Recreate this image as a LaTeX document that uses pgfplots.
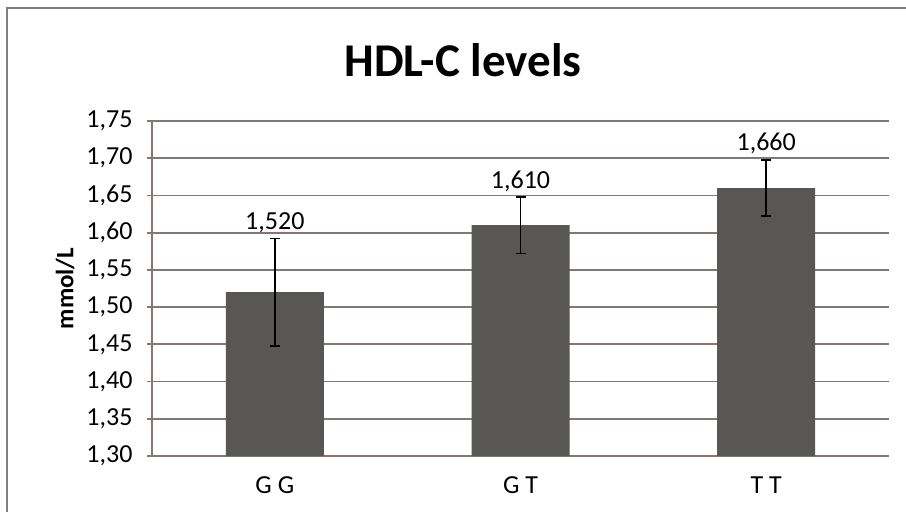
\documentclass[border=0pt]{standalone}
\usepackage{pgfplots}
\pgfplotsset{compat=1.18}
\usepackage{pgfplotstable}
\usepackage{fontspec}
\setmainfont{Carlito}
\definecolor{barcol}{RGB}{89,87,85}
\definecolor{gridcol}{RGB}{130,120,118}
\definecolor{framecol}{RGB}{128,128,128}
\pgfplotstableread{
x y err
0 1.520 0.072
1 1.610 0.038
2 1.660 0.038
}\datatable
\begin{document}
\begin{tikzpicture}
\path[use as bounding box] (0,0) rectangle (906pt,512pt);
\fill[white] (0,0) rectangle (906pt,512pt);
\draw[framecol, line width=2pt] (7pt,0) -- (7pt,504pt) -- (906pt,504pt);
\node[anchor=base, inner sep=0pt, font=\fontsize{47}{56}\selectfont\bfseries] at (463pt,435pt) {HDL-C levels};
\begin{axis}[
  at={(152pt,56pt)}, anchor=south west,
  scale only axis, width=737pt, height=335pt,
  xmin=-0.5, xmax=2.5, ymin=1.30, ymax=1.75,
  ytick={1.30,1.35,1.40,1.45,1.50,1.55,1.60,1.65,1.70,1.75},
  xtick={0,1,2}, xticklabels={G G, G T, T T},
  ybar, bar width=98pt,
  axis lines=left,
  axis line style={-, gridcol, line width=2pt},
  x axis line style={-}, y axis line style={-},
  ymajorgrids, major grid style={gridcol, line width=1.8pt},
  ytick style={gridcol, line width=1.8pt}, major tick length=5pt, tick align=outside,
  xtick style={draw=none},
  tick label style={font=\fontsize{26}{31}\selectfont, text=black},
  yticklabel style={xshift=-11pt, /pgf/number format/.cd, use comma, fixed, fixed zerofill, precision=2, assume math mode=true},
  xticklabel style={yshift=-12pt},
  ylabel={mmol/L},
  ylabel shift=5pt,
  ylabel style={font=\fontsize{25}{30}\selectfont\bfseries},
  visualization depends on={\thisrow{err} \as \myerr},
  nodes near coords={\pgfmathprintnumber[fixed, fixed zerofill, precision=3, use comma, assume math mode=true]{\pgfplotspointmeta}},
  nodes near coords style={font=\fontsize{26}{31}\selectfont, text=black, anchor=south, shift={(axis direction cs:0,\myerr)}, yshift=2pt},
]
\addplot[fill=barcol, draw=none,
  error bars/.cd, y dir=both, y explicit,
  error bar style={black, line width=1.6pt},
  error mark options={rotate=90, black, mark size=5pt, line width=1.6pt}]
  table[x=x, y=y, y error=err] {\datatable};
\end{axis}
\end{tikzpicture}
\end{document}
